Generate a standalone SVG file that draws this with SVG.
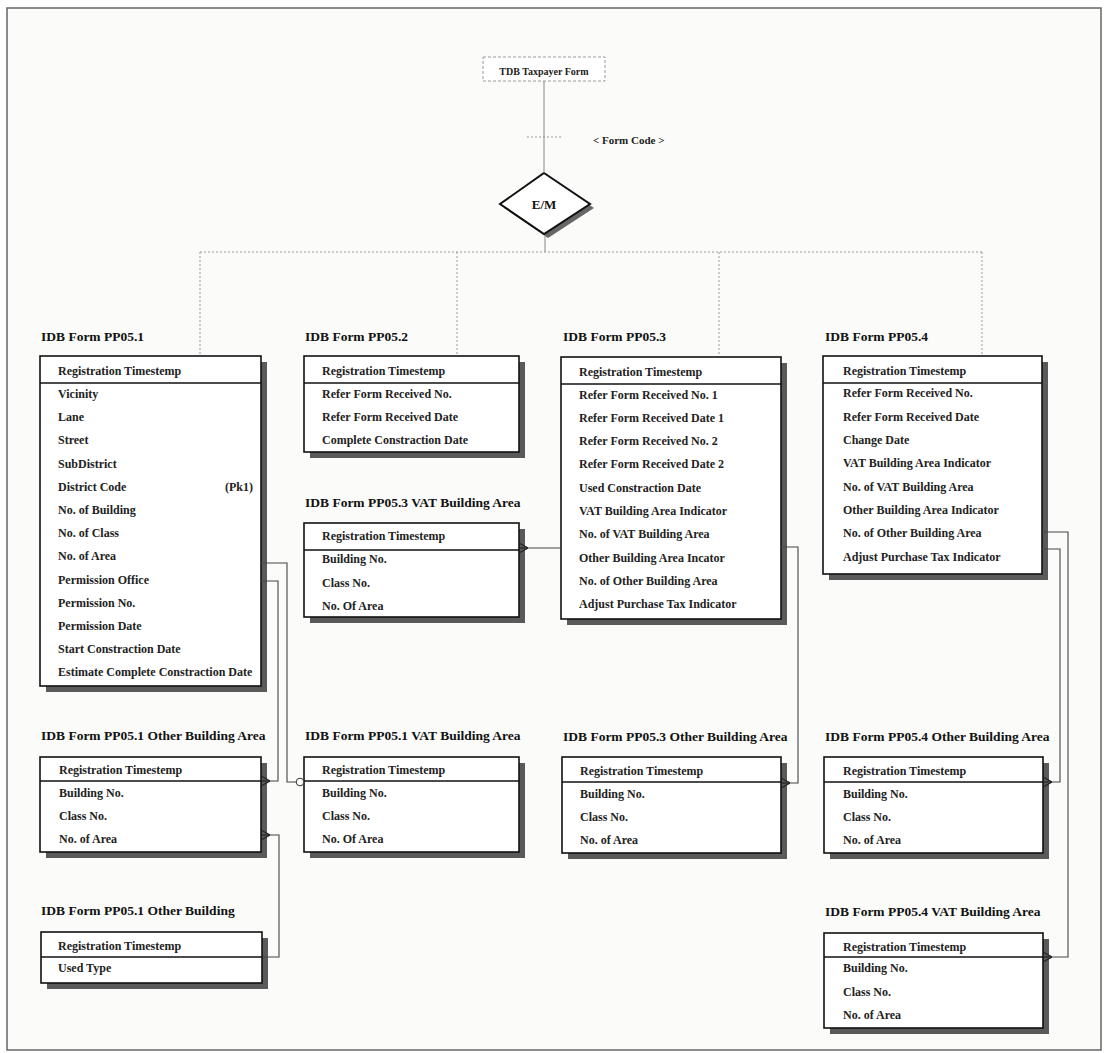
<svg xmlns="http://www.w3.org/2000/svg" width="1107" height="1053" viewBox="0 0 1107 1053">
<style>
.frame{fill:#fbfbf9;stroke:#666;stroke-width:1.5}
.box{fill:#fff;stroke:#111;stroke-width:1.6}
.shadow{fill:#5a5a5a}
.div{stroke:#111;stroke-width:1.6}
.title{font-family:"Liberation Serif",serif;font-weight:bold;font-size:13.5px;fill:#111}
.row{font-family:"Liberation Serif",serif;font-weight:bold;font-size:12px;fill:#222}
.small{font-family:"Liberation Serif",serif;font-weight:bold;font-size:10px;fill:#222}
.rel{fill:none;stroke:#444;stroke-width:1.1}
.tree{fill:none;stroke:#999;stroke-width:1;stroke-dasharray:2 2}
.solid{fill:none;stroke:#888;stroke-width:1}
</style>
<defs>
<marker id="crow" markerWidth="10" markerHeight="12" refX="8" refY="6" orient="auto" markerUnits="userSpaceOnUse"><path d="M0 6 L8 1.5 M0 6 L8 6 M0 6 L8 10.5" stroke="#222" stroke-width="1.1" fill="none"/></marker>
<marker id="crowS" markerWidth="10" markerHeight="12" refX="8" refY="6" orient="auto-start-reverse" markerUnits="userSpaceOnUse"><path d="M0 6 L8 1.5 M0 6 L8 6 M0 6 L8 10.5" stroke="#222" stroke-width="1.1" fill="none"/></marker>
<marker id="opt" markerWidth="10" markerHeight="10" refX="9" refY="5" orient="auto" markerUnits="userSpaceOnUse"><circle cx="5" cy="5" r="3.8" fill="#fff" stroke="#333" stroke-width="1"/></marker>
</defs>
<rect class="frame" x="7" y="8" width="1094" height="1042"/>

<g id="tdb-taxpayer-form">
<rect x="483" y="57" width="122" height="24" fill="#fff" stroke="#999" stroke-width="1" stroke-dasharray="3 2"/>
<text class="small" x="544" y="75" text-anchor="middle">TDB Taxpayer Form</text>
</g>
<text id="form-code" x="593" y="144" font-family="Liberation Serif,serif" font-weight="bold" font-size="11" fill="#222">&lt; Form Code &gt;</text>

<g id="em-diamond">
<polygon points="548,177 594,208 548,238 504,208" fill="#666"/>
<polygon points="544,173 590,204 544,234 500,204" fill="#fff" stroke="#111" stroke-width="2"/>
<text x="544" y="209" text-anchor="middle" font-family="Liberation Serif,serif" font-weight="bold" font-size="13" fill="#111">E/M</text>
</g>

<g id="pp051">
<text class="title" x="41" y="341">IDB Form PP05.1</text>
<rect class="shadow" x="46" y="362" width="221" height="330"/>
<rect class="box" x="40" y="356" width="221" height="330"/>
<line class="div" x1="40" y1="383" x2="261" y2="383"/>
<text class="row" x="58" y="375">Registration Timestemp</text>
<text class="row" x="58" y="398">Vicinity</text>
<text class="row" x="58" y="421">Lane</text>
<text class="row" x="58" y="444">Street</text>
<text class="row" x="58" y="468">SubDistrict</text>
<text class="row" x="58" y="491">District Code</text>
<text class="row" x="253" y="491" text-anchor="end">(Pk1)</text>
<text class="row" x="58" y="514">No. of Building</text>
<text class="row" x="58" y="537">No. of Class</text>
<text class="row" x="58" y="560">No. of Area</text>
<text class="row" x="58" y="584">Permission Office</text>
<text class="row" x="58" y="607">Permission No.</text>
<text class="row" x="58" y="630">Permission Date</text>
<text class="row" x="58" y="653">Start Constraction Date</text>
<text class="row" x="58" y="676">Estimate Complete Constraction Date</text>
</g>

<g id="pp052">
<text class="title" x="305" y="341">IDB Form PP05.2</text>
<rect class="shadow" x="310" y="362" width="215" height="96"/>
<rect class="box" x="304" y="356" width="215" height="96"/>
<line class="div" x1="304" y1="383" x2="519" y2="383"/>
<text class="row" x="322" y="375">Registration Timestemp</text>
<text class="row" x="322" y="398">Refer Form Received No.</text>
<text class="row" x="322" y="421">Refer Form Received Date</text>
<text class="row" x="322" y="444">Complete Constraction Date</text>
</g>

<g id="pp053-vat">
<text class="title" x="305" y="507">IDB Form PP05.3 VAT Building Area</text>
<rect class="shadow" x="310" y="529" width="215" height="94"/>
<rect class="box" x="304" y="523" width="215" height="94"/>
<line class="div" x1="304" y1="550" x2="519" y2="550"/>
<text class="row" x="322" y="540">Registration Timestemp</text>
<text class="row" x="322" y="563">Building No.</text>
<text class="row" x="322" y="587">Class No.</text>
<text class="row" x="322" y="610">No. Of Area</text>
</g>

<g id="pp053">
<text class="title" x="563" y="341">IDB Form PP05.3</text>
<rect class="shadow" x="567" y="363" width="220" height="262"/>
<rect class="box" x="561" y="357" width="220" height="262"/>
<line class="div" x1="561" y1="384" x2="781" y2="384"/>
<text class="row" x="579" y="376">Registration Timestemp</text>
<text class="row" x="579" y="399">Refer Form Received No. 1</text>
<text class="row" x="579" y="422">Refer Form Received Date 1</text>
<text class="row" x="579" y="445">Refer Form Received No. 2</text>
<text class="row" x="579" y="468">Refer Form Received Date 2</text>
<text class="row" x="579" y="492">Used Constraction Date</text>
<text class="row" x="579" y="515">VAT Building Area Indicator</text>
<text class="row" x="579" y="538">No. of VAT Building Area</text>
<text class="row" x="579" y="562">Other Building Area Incator</text>
<text class="row" x="579" y="585">No. of Other Building Area</text>
<text class="row" x="579" y="608">Adjust Purchase Tax Indicator</text>
</g>

<g id="pp054">
<text class="title" x="825" y="341">IDB Form PP05.4</text>
<rect class="shadow" x="829" y="362" width="219" height="218"/>
<rect class="box" x="823" y="356" width="219" height="218"/>
<line class="div" x1="823" y1="383" x2="1042" y2="383"/>
<text class="row" x="843" y="375">Registration Timestemp</text>
<text class="row" x="843" y="397">Refer Form Received No.</text>
<text class="row" x="843" y="421">Refer Form Received Date</text>
<text class="row" x="843" y="444">Change Date</text>
<text class="row" x="843" y="467">VAT Building Area Indicator</text>
<text class="row" x="843" y="491">No. of VAT Building Area</text>
<text class="row" x="843" y="514">Other Building Area Indicator</text>
<text class="row" x="843" y="537">No. of Other Building Area</text>
<text class="row" x="843" y="561">Adjust Purchase Tax Indicator</text>
</g>

<g id="pp051-other-area">
<text class="title" x="41" y="740">IDB Form PP05.1 Other Building Area</text>
<rect class="shadow" x="46" y="763" width="221" height="95"/>
<rect class="box" x="40" y="757" width="221" height="95"/>
<line class="div" x1="40" y1="781" x2="261" y2="781"/>
<text class="row" x="59" y="774">Registration Timestemp</text>
<text class="row" x="59" y="797">Building No.</text>
<text class="row" x="59" y="820">Class No.</text>
<text class="row" x="59" y="843">No. of Area</text>
</g>

<g id="pp051-vat">
<text class="title" x="305" y="740">IDB Form PP05.1 VAT Building Area</text>
<rect class="shadow" x="310" y="763" width="215" height="95"/>
<rect class="box" x="304" y="757" width="215" height="95"/>
<line class="div" x1="304" y1="781" x2="519" y2="781"/>
<text class="row" x="322" y="774">Registration Timestemp</text>
<text class="row" x="322" y="797">Building No.</text>
<text class="row" x="322" y="820">Class No.</text>
<text class="row" x="322" y="843">No. Of Area</text>
</g>

<g id="pp053-other-area">
<text class="title" x="563" y="741">IDB Form PP05.3 Other Building Area</text>
<rect class="shadow" x="568" y="763" width="219" height="96"/>
<rect class="box" x="562" y="757" width="219" height="96"/>
<line class="div" x1="562" y1="782" x2="781" y2="782"/>
<text class="row" x="580" y="775">Registration Timestemp</text>
<text class="row" x="580" y="798">Building No.</text>
<text class="row" x="580" y="821">Class No.</text>
<text class="row" x="580" y="844">No. of Area</text>
</g>

<g id="pp054-other-area">
<text class="title" x="825" y="741">IDB Form PP05.4 Other Building Area</text>
<rect class="shadow" x="830" y="763" width="219" height="96"/>
<rect class="box" x="824" y="757" width="219" height="96"/>
<line class="div" x1="824" y1="782" x2="1043" y2="782"/>
<text class="row" x="843" y="775">Registration Timestemp</text>
<text class="row" x="843" y="798">Building No.</text>
<text class="row" x="843" y="821">Class No.</text>
<text class="row" x="843" y="844">No. of Area</text>
</g>

<g id="pp051-other-building">
<text class="title" x="41" y="915">IDB Form PP05.1 Other Building</text>
<rect class="shadow" x="47" y="938" width="221" height="51"/>
<rect class="box" x="41" y="932" width="221" height="51"/>
<line class="div" x1="41" y1="957" x2="262" y2="957"/>
<text class="row" x="58" y="950">Registration Timestemp</text>
<text class="row" x="58" y="972">Used Type</text>
</g>

<g id="pp054-vat">
<text class="title" x="825" y="916">IDB Form PP05.4 VAT Building Area</text>
<rect class="shadow" x="830" y="939" width="219" height="95"/>
<rect class="box" x="824" y="933" width="219" height="95"/>
<line class="div" x1="824" y1="957" x2="1043" y2="957"/>
<text class="row" x="843" y="951">Registration Timestemp</text>
<text class="row" x="843" y="972">Building No.</text>
<text class="row" x="843" y="996">Class No.</text>
<text class="row" x="843" y="1019">No. of Area</text>
</g>

<g id="connectors">
<line class="solid" x1="544" y1="81" x2="544" y2="173"/>
<line class="tree" x1="527" y1="137" x2="562" y2="137"/>
<line class="solid" x1="545" y1="235" x2="545" y2="252"/>
<path class="tree" d="M200 252 H982"/>
<path class="tree" d="M200 252 V355 M457 252 V355 M719 252 V356 M982 252 V355"/>
<path class="rel" d="M261 563 H287 V782 H304" marker-end="url(#opt)"/>
<path class="rel" d="M261 581 H278 V781 H262" marker-end="url(#crow)"/>
<path class="rel" d="M262 835 H279 V957 H263" marker-start="url(#crowS)"/>
<path class="rel" d="M561 548 H520" marker-end="url(#crow)"/>
<path class="rel" d="M781 547 H798 V783 H782" marker-end="url(#crow)"/>
<path class="rel" d="M1042 549 H1060 V782 H1044" marker-end="url(#crow)"/>
<path class="rel" d="M1042 532 H1068 V957 H1044" marker-end="url(#crow)"/>
</g>
</svg>
